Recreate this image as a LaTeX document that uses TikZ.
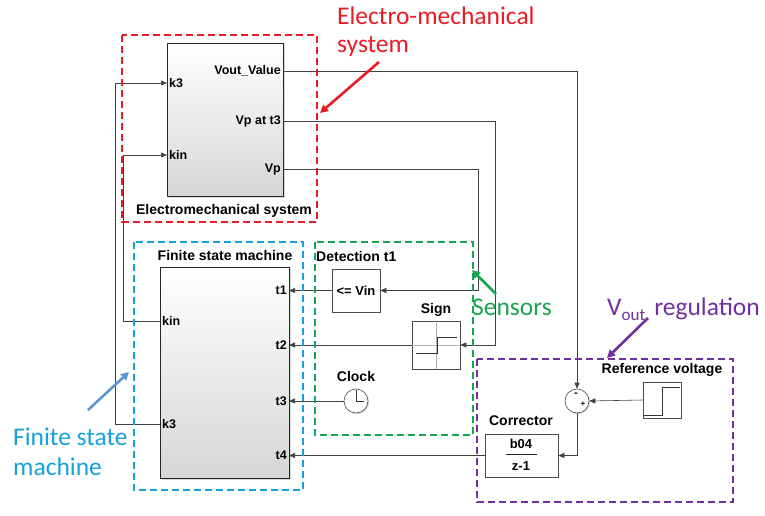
\documentclass[tikz,border=0pt]{standalone}
\usepackage{fontspec}
\setmainfont{Liberation Sans}
\newfontfamily\annfont{Carlito}
\usetikzlibrary{arrows.meta,shadows,positioning,calc}
\definecolor{emsred}{RGB}{232,28,36}
\definecolor{senseg}{RGB}{24,165,80}
\definecolor{fsmblue}{RGB}{22,160,220}
\definecolor{regpurp}{RGB}{112,48,160}
\definecolor{arrblue}{RGB}{90,150,210}
\begin{document}
\begin{tikzpicture}[x=1pt,y=-1pt,
	block/.style={draw=black!85,line width=0.9pt,inner sep=0,top color=white,bottom color=black!16,
		drop shadow={opacity=0.3,shadow xshift=1.5pt,shadow yshift=-1.5pt}},
	small/.style={draw=black!70,line width=0.6pt,inner sep=0,fill=white,
		drop shadow={opacity=0.3,shadow xshift=1.2pt,shadow yshift=-1.2pt}},
	port/.style={font=\bfseries\fontsize{12.5}{14}\selectfont,inner sep=2pt},
	title/.style={font=\bfseries\fontsize{14}{16}\selectfont,inner sep=0},
	wire/.style={draw=black!75,line width=0.6pt},
	sig/.style={wire,-{Triangle[length=6pt,width=5pt]}},
	grp/.style={line width=2.3pt,dash pattern=on 7pt off 4pt},
	ann/.style={font=\annfont\fontsize{25.5}{29}\selectfont,inner sep=0,anchor=base west},
	pointer/.style={line width=2.6pt,-{Triangle[length=8pt,width=8pt]}}]
\useasboundingbox (0,0) rectangle (765,516);
% blocks
\node[block,minimum width=116pt,minimum height=153pt] (ems) at (225,119.5) {};
\node[block,minimum width=129pt,minimum height=211pt] (fsm) at (224.5,372.5) {};
\node[small,minimum width=48pt,minimum height=43pt] (vin) at (356,290.5) {\bfseries\fontsize{13}{14}\selectfont <= Vin};
\node[small,minimum width=48pt,minimum height=48pt] (sign) at (436,345) {};
\node[small,circle,minimum size=24pt] (clk) at (356,401) {};
\node[small,circle,minimum size=24pt] (sum) at (577,401) {};
\node[small,minimum width=38pt,minimum height=36pt] (ref) at (662,400) {};
\node[small,minimum width=73pt,minimum height=43pt] (corr) at (521.5,455.5) {};
% titles
\node[title] (emst) at (224,211) {Electromechanical system};
\node[title] (fsmt) at (225,255) {Finite state machine};
\node[title,anchor=west] (dett) at (316,256) {Detection t1};
\node[title] (signt) at (436,310) {Sign};
\node[title] (clkt) at (356,376) {Clock};
\node[title] (reft) at (662,370) {Reference voltage};
\node[title] (corrt) at (521,421) {Corrector};
% ports
\coordinate (ems-k3) at (167,83);
\coordinate (ems-kin) at (167,155);
\coordinate (ems-vout) at (283,71);
\coordinate (ems-vpt3) at (283,121);
\coordinate (ems-vp) at (283,169);
\coordinate (fsm-t1) at (289,290.5);
\coordinate (fsm-kin) at (160,321);
\coordinate (fsm-t2) at (289,345);
\coordinate (fsm-t3) at (289,401);
\coordinate (fsm-k3) at (160,424);
\coordinate (fsm-t4) at (289,455.5);
\node[port,anchor=west] at (ems-k3) {k3};
\node[port,anchor=west] at (ems-kin) {kin};
\node[port,anchor=east] at (ems-vout) {Vout\_Value};
\node[port,anchor=east] at (ems-vpt3) {Vp at t3};
\node[port,anchor=east] at (ems-vp) {Vp};
\node[port,anchor=east] at (fsm-t1) {t1};
\node[port,anchor=west] at (fsm-kin) {kin};
\node[port,anchor=east] at (fsm-t2) {t2};
\node[port,anchor=east] at (fsm-t3) {t3};
\node[port,anchor=west] at (fsm-k3) {k3};
\node[port,anchor=east] at (fsm-t4) {t4};
% icons
\draw[black!30,line width=0.6pt] (sign.north) -- (sign.south) (sign.west) -- (sign.east);
\draw[black!80,line width=0.8pt] (416,353) -- (437,353) -- (437,337) -- (457,337);
\draw[black!80,line width=0.8pt] (644,415) -- (662,415) -- (662,387) -- (680,387);
\draw[black!80,line width=0.7pt] (356,390) -- (356,401) -- (364,401);
\node[font=\bfseries\fontsize{11}{11}\selectfont,inner sep=0] at (576,395) {-};
\node[font=\bfseries\fontsize{8}{8}\selectfont,inner sep=0] at (583,404) {+};
\node[title,font=\bfseries\fontsize{13}{14}\selectfont] (num) at (521,444) {b04};
\draw[black!85,line width=0.7pt] (506,454) -- (537,454);
\node[title,font=\bfseries\fontsize{13}{14}\selectfont] (den) at (521,466) {z-1};
% connectors
\draw[sig] (ems-vout) -| (sum.north);
\draw[sig] (ems-vpt3) -- ++(212,0) |- (sign.east);
\draw[sig] (ems-vp) -- ++(195,0) |- (vin.east);
\draw[sig] (vin.west) -- (fsm-t1);
\draw[sig] (sign.west) -- (fsm-t2);
\draw[sig] (clk.west) -- (fsm-t3);
\draw[sig] (corr.west) -- (fsm-t4);
\draw[sig] (fsm-kin) -- ++(-37,0) |- (ems-kin);
\draw[sig] (fsm-k3) -- ++(-45,0) |- (ems-k3);
\draw[sig] (ref.west) -- (sum.east);
\draw[sig] (sum.south) |- (corr.east);
% groups
\draw[grp,emsred] (122,35) rectangle (317,222);
\draw[grp,fsmblue] (134,242) rectangle (303,490);
\draw[grp,senseg] (315,242) rectangle (473,435);
\draw[grp,regpurp] (477,359) rectangle (733,502);
% annotations
\node[ann,text=emsred] (emsl) at (337,25) {Electro-mechanical};
\node[ann,text=emsred] (emsl2) at (337,53) {system};
\draw[pointer,emsred] (379,62) -- (320,113);
\node[ann,text=senseg] (senl) at (472,315) {Sensors};
\draw[pointer,senseg] (496,294) -- (472,270);
\node[ann,text=regpurp] (regl) at (607,315) {V\raisebox{-0.45ex}{\fontsize{17}{17}\selectfont out}\hspace{9pt}regulation};
\draw[pointer,regpurp] (648,318) -- (607,358);
\node[ann,text=fsmblue] (fsml) at (13,445) {Finite state};
\node[ann,text=fsmblue] (fsml2) at (13,475) {machine};
\draw[pointer,arrblue] (88,410) -- (129,372);
\end{tikzpicture}
\end{document}
